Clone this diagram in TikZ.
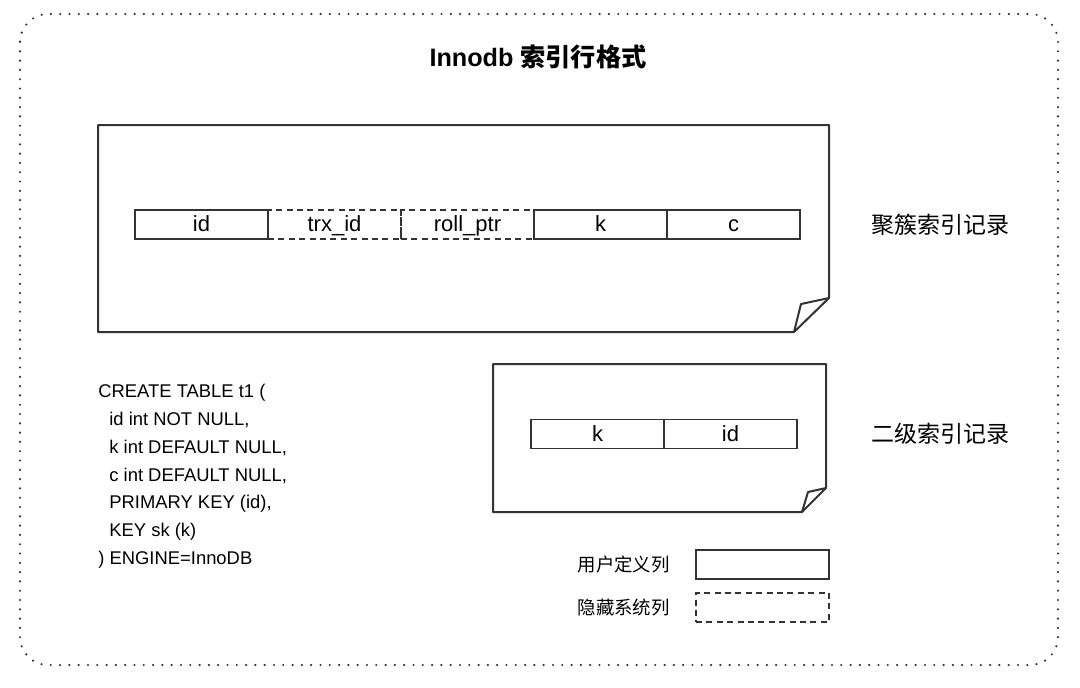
\documentclass[tikz,border=0pt]{standalone}
\usepackage{fontspec}
\setmainfont{Liberation Sans}
\newfontfamily\cjk{Noto Sans CJK SC}
\usetikzlibrary{positioning}

\tikzset{
  frame/.style={line width=1.2pt, line cap=round, dash pattern=on 0pt off 4.65pt, draw=black!80, rounded corners=14pt},
  page/.style={draw=black!80, line width=1pt, line join=round},
  field/.style={draw=black!80, line width=0.75pt, minimum width=66.5pt, minimum height=14.5pt, inner sep=0pt, outer sep=0pt,
    text height=0.9em, text depth=0.19em, anchor=west},
  hidden/.style={field, dash pattern=on 3pt off 2.2pt},
  tag/.style={font=\cjk\fontsize{11.5}{13}\selectfont, anchor=west, inner sep=0pt},
  legend/.style={font=\cjk\fontsize{9.2}{11}\selectfont, inner sep=0pt},
}

\begin{document}
\begin{tikzpicture}[x=0.5pt, y=-0.5pt, font=\fontsize{11}{12}\selectfont]
    \useasboundingbox (0,0) rectangle (1080,687);
    % dotted frame round everything
    \draw[frame] (20,14) rectangle (1058,665);

    % title
    \node[font=\bfseries\fontsize{12.6}{14}\selectfont] (title) at (538,57) {Innodb {\cjk 索引行格式}};

    % clustered index record page
    \draw[page] (98,125) -- (829,125) -- (829,298) -- (794,332) -- (98,332) -- cycle;
    \draw[page] (829,298) -- (801,304) -- (794,332);
    \node[field] (id) at (135,224.5) {id};
    \node[hidden, right=0pt of id] (trx) {trx\_id};
    \node[hidden, right=0pt of trx] (roll) {roll\_ptr};
    \node[field, right=0pt of roll] (k) {k};
    \node[field, right=0pt of k] (c) {c};
    \node[tag] (clustered) at (871,225) {聚簇索引记录};

    % secondary index record page
    \draw[page] (493,364) -- (826,364) -- (826,488) -- (802,512) -- (493,512) -- cycle;
    \draw[page] (826,488) -- (808,492) -- (802,512);
    \node[field] (sk) at (531,434) {k};
    \node[field, right=0pt of sk] (skid) {id};
    \node[tag] (secondary) at (871,434) {二级索引记录};

    % table definition
    \node[anchor=north west, inner sep=0pt, align=left, font=\fontsize{9.2}{13.9}\selectfont] (ddl) at (98,384) {%
        CREATE TABLE t1 (\\
        \hspace*{5.5pt}id int NOT NULL,\\
        \hspace*{5.5pt}k int DEFAULT NULL,\\
        \hspace*{5.5pt}c int DEFAULT NULL,\\
        \hspace*{5.5pt}PRIMARY KEY (id),\\
        \hspace*{5.5pt}KEY sk (k)\\
        ) ENGINE=InnoDB};

    % legend
    \node[field] (user) at (696,564.5) {};
    \node[hidden] (sys) at (696,607.5) {};
    \node[legend, left=13pt of user] (userlbl) {用户定义列};
    \node[legend, left=13pt of sys] (syslbl) {隐藏系统列};
\end{tikzpicture}
\end{document}
